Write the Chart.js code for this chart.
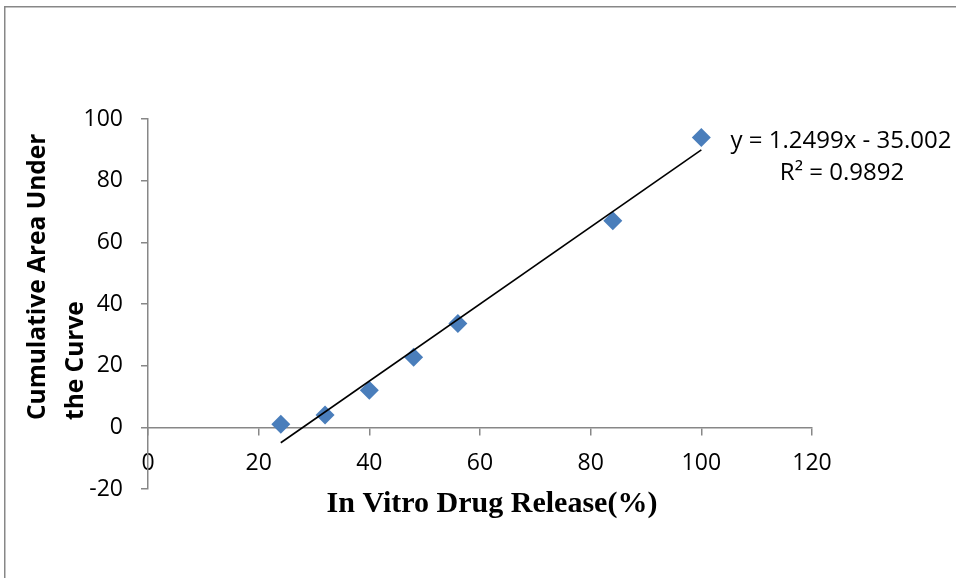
<!DOCTYPE html>
<html><head><meta charset="utf-8">
<script src="https://cdn.jsdelivr.net/npm/chart.js@4.4.0/dist/chart.umd.min.js"></script>
<style>html,body{margin:0;padding:0;background:#fff;overflow:hidden;} #wrap{width:956px;height:578px;position:relative;}</style>
</head><body><div id="wrap"><canvas id="c" width="956" height="578"></canvas></div>
<script>
// ---- data ----
const releaseX = [24, 32, 40, 48, 56, 84, 100];      // In Vitro Drug Release (%)
const aucY     = [1, 4, 12, 22.7, 33.7, 67, 94];       // Cumulative Area Under the Curve
const trendX   = [24, 100];                             // linear trendline ends
const trendY   = [-5.0, 90.0];
const xTicks   = [0, 20, 40, 60, 80, 100, 120];
const yTicks   = [-20, 0, 20, 40, 60, 80, 100];
const equationLabel = 'y = 1.2499x - 35.002';
const r2Label       = 'R\u00B2 = 0.9892';
const xTitle        = 'In Vitro Drug Release(%)';
const yTitleLines   = ['Cumulative Area Under', 'the Curve'];

const tickFont = {family: "'Open Sans', sans-serif", size: 23};
const axisGrey = '#878787';

const decor = {
  id: 'decor',
  beforeDraw(chart) {
    const ctx = chart.ctx;
    ctx.save();
    ctx.fillStyle = '#fff';
    ctx.fillRect(0, 0, chart.width, chart.height);
    ctx.strokeStyle = axisGrey;
    ctx.lineWidth = 1.5;
    ctx.beginPath();
    ctx.moveTo(4.75, chart.height);
    ctx.lineTo(4.75, 6.75);
    ctx.lineTo(chart.width, 6.75);
    ctx.stroke();
    ctx.restore();
  },
  afterDraw(chart) {
    const ctx = chart.ctx;
    ctx.save();
    ctx.fillStyle = '#000';
    // x-axis title
    ctx.font = "bold 30px 'Liberation Serif', serif";
    ctx.textAlign = 'center';
    ctx.textBaseline = 'middle';
    ctx.fillText(xTitle, 492, 504);
    // equation and R squared
    ctx.font = "24px 'Open Sans', sans-serif";
    ctx.fillText(equationLabel, 841, 141);
    ctx.fillText(r2Label, 842, 173);
    // y-axis title (rotated, left aligned lines)
    ctx.font = "bold 24.5px 'Open Sans', sans-serif";
    ctx.textAlign = 'left';
    ctx.textBaseline = 'alphabetic';
    const baseXs = [45, 83];
    yTitleLines.forEach((line, i) => {
      ctx.save();
      ctx.translate(baseXs[i], 420);
      ctx.rotate(-Math.PI / 2);
      ctx.fillText(line, 0, 0);
      ctx.restore();
    });
    ctx.restore();
  }
};

function zeroPad(s) { s.paddingLeft = 0; s.paddingRight = 0; s.paddingTop = 0; s.paddingBottom = 0; }

new Chart(document.getElementById('c'), {
  type: 'scatter',
  data: {
    datasets: [
      {
        label: 'Trendline',
        data: trendX.map((x, i) => ({x: x, y: trendY[i]})),
        showLine: true,
        borderColor: '#000',
        borderWidth: 1.6,
        pointRadius: 0,
        fill: false,
        order: 0
      },
      {
        label: 'AUC',
        data: releaseX.map((x, i) => ({x: x, y: aucY[i]})),
        pointStyle: 'rectRot',
        pointRadius: 9.5,
        pointBackgroundColor: '#4A7EBB',
        pointBorderColor: '#4A7EBB',
        pointBorderWidth: 0,
        showLine: false,
        order: 1
      }
    ]
  },
  options: {
    responsive: false,
    animation: false,
    devicePixelRatio: 1,
    layout: {padding: {left: 68, top: 119, right: 144, bottom: 89}},
    plugins: {legend: {display: false}, tooltip: {enabled: false}, title: {display: false}},
    scales: {
      x: {
        type: 'linear',
        position: {y: 0},
        min: 0, max: 120,
        afterBuildTicks: s => { s.ticks = xTicks.map(v => ({value: v})); },
        afterFit: zeroPad,
        ticks: {font: tickFont, color: '#000', padding: 15, autoSkip: false, maxRotation: 0},
        grid: {drawOnChartArea: false, drawTicks: true, tickLength: 7, color: axisGrey, lineWidth: 1.5},
        border: {display: true, color: axisGrey, width: 1.5}
      },
      y: {
        type: 'linear',
        position: 'left',
        min: -20, max: 100,
        afterBuildTicks: s => { s.ticks = yTicks.map(v => ({value: v})); },
        afterFit: s => { s.width = 80; zeroPad(s); },
        ticks: {font: tickFont, color: '#000', padding: 18},
        grid: {drawOnChartArea: false, drawTicks: true, tickLength: 7, color: axisGrey, lineWidth: 1.5},
        border: {display: true, color: axisGrey, width: 1.5}
      }
    }
  },
  plugins: [decor]
});
</script>
</body></html>
